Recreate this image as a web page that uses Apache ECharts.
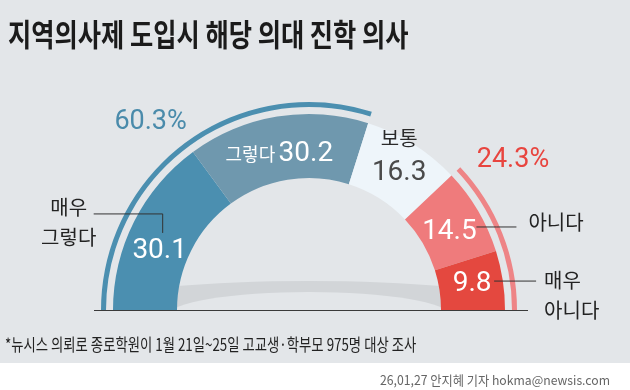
<!DOCTYPE html>
<html><head><meta charset="utf-8">
<script src="https://cdn.jsdelivr.net/npm/echarts@6/dist/echarts.min.js"></script>
<style>html,body{margin:0;padding:0;background:#fff}#c{width:630px;height:390px}</style>
</head><body><div id="c"></div>
<script>
// ---- data ----
const categories = ['매우 그렇다', '그렇다', '보통', '아니다', '매우 아니다'];
const values = [30.1, 30.2, 16.3, 14.5, 9.8];
const groupLabels = ['60.3%', '', '24.3%'];
const groupValues = [60.3, 16.3, 24.3];
const titleText = '지역의사제 도입시 해당 의대 진학 의사';
const noteText = '*뉴시스 의뢰로 종로학원이 1월 21일~25일 고교생·학부모 975명 대상 조사';
const creditText = '26,01,27 안지혜 기자 hokma@newsis.com';

// ---- style ----
const sliceColors = ['#4b8fb0', '#6f98ae', '#eef5fa', '#ef7b7c', '#e4483f'];
const groupColors = ['#4b8fb0', 'rgba(0,0,0,0)', '#ee8486'];
const groupTextColors = ['#4a8bab', '#000', '#e8453f'];
const BG = '#e3e6e9';
const KR = '"Noto Sans CJK KR", sans-serif';
const NUM = '"Liberation Sans Narrow", Roboto, sans-serif';
const CX = 309, CY = 310, R0 = 132, R1 = 196, G0 = 203, G1 = 208;
const valueShift = [[-3, 15], [-3, 6], [3, -16], [-1, 5], [1, -1]];
const groupShift = [[-37, -22], [0, 0], [13, -74]];

function midAngle(vals, i) {
  const total = vals.reduce((a, b) => a + b, 0);
  let before = 0;
  for (let k = 0; k < i; k++) before += vals[k];
  return 180 - (before + vals[i] / 2) / total * 180;
}
function polar(r, deg) {
  const a = deg * Math.PI / 180;
  return [CX + r * Math.cos(a), CY - r * Math.sin(a)];
}

const chart = echarts.init(document.getElementById('c'), null, {renderer: 'canvas'});

const option = {
  backgroundColor: '#ffffff',
  animation: false,
  graphic: [
    {type: 'rect', z: 0, shape: {x: 0, y: 0, width: 630, height: 363}, style: {fill: BG}},
    {type: 'circle', z: 1, x: CX, y: CY - 10.2, scaleY: 18.8 / 190, shape: {cx: 0, cy: 0, r: 190}, style: {fill: '#d2d5d8'}},
    {type: 'circle', z: 2, x: CX, y: CY + 5, scaleY: 22.9 / 140, shape: {cx: 0, cy: 0, r: 140}, style: {fill: BG}},
    {type: 'rect', z: 3, shape: {x: 0, y: CY, width: 630, height: 363 - CY}, style: {fill: BG}},
    {type: 'line', z: 10, shape: {x1: CX - 215, y1: CY + 0.5, x2: CX + 219, y2: CY + 0.5}, style: {stroke: '#3a3a3a', lineWidth: 1}},
    {type: 'text', z: 10, x: 8, y: 34, scaleX: 0.815,
      style: {x: 0, y: 0, text: titleText, font: 'bold 31px ' + KR, fill: '#1b1b1b', textAlign: 'left', textVerticalAlign: 'middle', align: 'left', verticalAlign: 'middle'}},
    {type: 'text', z: 10, x: 5, y: 345, scaleX: 0.785,
      style: {x: 0, y: 0, text: noteText, font: '17px ' + KR, fill: '#222', textAlign: 'left', textVerticalAlign: 'middle', align: 'left', verticalAlign: 'middle'}},
    {type: 'text', z: 10, x: 610, y: 380, scaleX: 0.94,
      style: {x: 0, y: 0, text: creditText, font: '13px ' + KR, fill: '#666', textAlign: 'right', textVerticalAlign: 'middle', align: 'right', verticalAlign: 'middle'}}
  ],
  series: [
    {
      type: 'pie', z: 5, silent: true,
      center: [CX, CY], radius: [R0, R1],
      startAngle: 180, endAngle: 0, clockwise: true,
      avoidLabelOverlap: false,
      data: values.map((v, i) => ({value: v, name: categories[i], itemStyle: {color: sliceColors[i]}})),
      label: {
        show: true, position: 'inside',
        formatter: function (p) {
          const i = p.dataIndex;
          const v = values[i].toFixed(1);
          if (i === 1) return '{s|' + categories[1] + '} {n|' + v + '}';
          if (i === 2) return '{t|' + categories[2] + '}\n{d|' + v + '}';
          return '{n|' + v + '}';
        },
        rich: {
          n: {fontFamily: NUM, fontSize: 28, color: '#ffffff', lineHeight: 32},
          s: {fontFamily: KR, fontSize: 18, color: '#ffffff', lineHeight: 32},
          t: {fontFamily: KR, fontSize: 20, color: '#2a2a2a', lineHeight: 36},
          d: {fontFamily: NUM, fontSize: 28, color: '#4a4a4a', lineHeight: 34}
        }
      },
      labelLine: {show: false},
      labelLayout: function (p) {
        const i = p.dataIndex;
        const c = polar((R0 + R1) / 2, midAngle(values, i));
        return {x: c[0] + valueShift[i][0], y: c[1] + valueShift[i][1], align: 'center', verticalAlign: 'middle'};
      }
    },
    {
      type: 'pie', z: 6, silent: true,
      center: [CX, CY], radius: [R0, R1],
      startAngle: 180, endAngle: 0, clockwise: true,
      avoidLabelOverlap: false,
      data: values.map((v, i) => ({
        value: v, name: categories[i], itemStyle: {color: 'rgba(0,0,0,0)'},
        label: {show: i === 0 || i === 3 || i === 4},
        labelLine: {show: i === 0 || i === 3 || i === 4}
      })),
      label: {
        position: 'outside',
        formatter: function (p) { return categories[p.dataIndex].replace(' ', '\n'); },
        fontFamily: KR, fontSize: 20, color: '#222', lineHeight: 30
      },
      labelLine: {show: true, length: 10, length2: 10, lineStyle: {color: '#333', width: 1}},
      labelLayout: function (p) {
        const i = p.dataIndex;
        const c = polar((R0 + R1) / 2, midAngle(values, i));
        if (i === 0) return {x: c[0] - 94, y: c[1] - 14, align: 'center', verticalAlign: 'middle',
          labelLinePoints: [[c[0], c[1] - 3], [c[0], c[1] - 22], [c[0] - 69, c[1] - 22]]};
        if (i === 3) return {x: c[0] + 78, y: c[1] - 5, align: 'left', verticalAlign: 'middle',
          labelLinePoints: [[c[0] + 26, c[1]], [c[0] + 46, c[1]], [c[0] + 66, c[1]]]};
        if (i === 4) return {x: c[0] + 73, y: c[1] + 10, align: 'left', verticalAlign: 'middle',
          labelLinePoints: [[c[0] + 23, c[1] - 4], [c[0] + 44, c[1] - 4], [c[0] + 65, c[1] - 4]]};
        return {};
      }
    },
    {
      type: 'pie', z: 5, silent: true,
      center: [CX, CY], radius: [G0, G1],
      startAngle: 180, endAngle: 0, clockwise: true,
      avoidLabelOverlap: false,
      data: groupValues.map((v, i) => ({
        value: v, name: groupLabels[i], itemStyle: {color: groupColors[i]},
        label: {show: groupLabels[i] !== '', color: groupTextColors[i]}
      })),
      label: {
        position: 'inside',
        formatter: function (p) { return groupLabels[p.dataIndex]; },
        fontFamily: NUM, fontSize: 27
      },
      labelLine: {show: false},
      labelLayout: function (p) {
        const i = p.dataIndex;
        const c = polar((G0 + G1) / 2, midAngle(groupValues, i));
        return {x: c[0] + groupShift[i][0], y: c[1] + groupShift[i][1], align: 'center', verticalAlign: 'middle'};
      }
    }
  ]
};
chart.setOption(option);
</script>
</body></html>
